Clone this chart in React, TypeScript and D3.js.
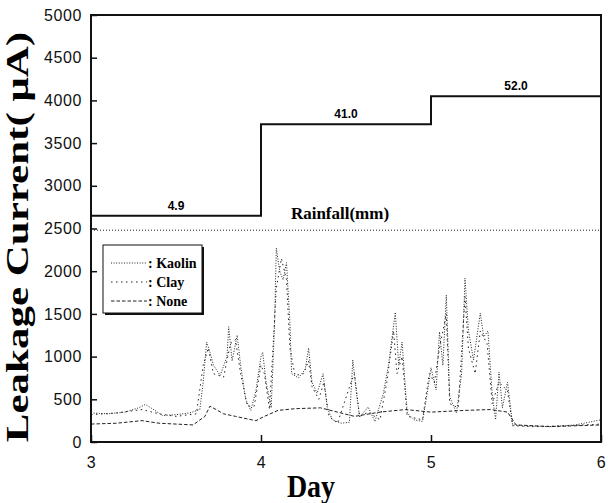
import React, { useEffect, useRef } from "react";
import * as d3 from "d3";

// Leakage current readings, [day, µA]
const kaolin: [number, number][] = [
  [3.0, 340], [3.1, 330], [3.2, 350], [3.28, 400], [3.32, 440], [3.36, 390], [3.42, 310], [3.5, 320],
  [3.58, 340], [3.64, 380], [3.66, 700], [3.68, 1170], [3.7, 1050], [3.72, 900], [3.76, 780], [3.8, 1000],
  [3.81, 1350], [3.83, 950], [3.86, 1250], [3.88, 900], [3.91, 500], [3.94, 370], [3.97, 600], [4.0, 1000],
  [4.01, 1050], [4.03, 700], [4.06, 400], [4.08, 1400], [4.09, 2270], [4.11, 2000], [4.13, 1900], [4.15, 2100],
  [4.17, 1400], [4.18, 800], [4.22, 750], [4.26, 850], [4.28, 1100], [4.3, 700], [4.33, 570], [4.365, 800],
  [4.39, 400], [4.42, 260], [4.47, 220], [4.52, 230], [4.54, 960], [4.56, 600], [4.58, 290], [4.63, 410],
  [4.67, 240], [4.72, 570], [4.75, 900], [4.79, 1520], [4.81, 900], [4.83, 1170], [4.86, 340], [4.9, 260],
  [4.95, 240], [4.98, 600], [5.0, 870], [5.03, 610], [5.05, 1290], [5.07, 900], [5.09, 1720], [5.11, 530],
  [5.15, 340], [5.18, 800], [5.2, 1920], [5.22, 1310], [5.25, 960], [5.29, 1510], [5.31, 1230], [5.335, 1300],
  [5.36, 560], [5.38, 260], [5.4, 820], [5.42, 400], [5.45, 700], [5.48, 200], [5.55, 190], [5.7, 180],
  [5.85, 200], [5.95, 240], [6.0, 260],
];

const clay: [number, number][] = [
  [3.0, 320], [3.15, 340], [3.3, 380], [3.4, 330], [3.5, 300], [3.62, 330], [3.66, 900], [3.69, 1100],
  [3.72, 800], [3.78, 760], [3.82, 1150], [3.85, 1200], [3.88, 800], [3.92, 420], [3.96, 420], [4.0, 900],
  [4.02, 800], [4.05, 380], [4.09, 1800], [4.12, 2150], [4.15, 1900], [4.17, 1100], [4.2, 780], [4.25, 800],
  [4.28, 950], [4.3, 650], [4.34, 500], [4.37, 700], [4.4, 300], [4.45, 220], [4.53, 700], [4.55, 800],
  [4.58, 300], [4.63, 350], [4.7, 260], [4.74, 700], [4.78, 1300], [4.8, 800], [4.83, 1000], [4.86, 300],
  [4.95, 260], [4.99, 800], [5.02, 700], [5.05, 1100], [5.09, 1500], [5.11, 450], [5.16, 400], [5.2, 1700],
  [5.22, 1100], [5.26, 800], [5.29, 1300], [5.33, 1150], [5.36, 450], [5.4, 700], [5.45, 600], [5.48, 190],
  [5.6, 180], [5.8, 190], [6.0, 210],
];

const none: [number, number][] = [
  [3.0, 210], [3.15, 220], [3.3, 250], [3.4, 220], [3.6, 200], [3.67, 300], [3.7, 420], [3.78, 330],
  [3.85, 300], [3.92, 270], [3.97, 250], [4.02, 300], [4.1, 370], [4.2, 390], [4.35, 400], [4.45, 350],
  [4.55, 300], [4.7, 350], [4.85, 380], [5.0, 350], [5.2, 370], [5.35, 380], [5.45, 350], [5.5, 200],
  [5.7, 180], [6.0, 200],
];

// Rainfall per day: step level on the current scale and the label in mm
const rainDays = [3, 4, 5];
const rainLevels = [2650, 3720, 4050];
const rainLabels = ["4.9", "41.0", "52.0"];
const rainfallRef = 2480;

const xTicks = [3, 4, 5, 6];
const yTicks = [0, 500, 1000, 1500, 2000, 2500, 3000, 3500, 4000, 4500, 5000];

const seriesNames = ["Kaolin", "Clay", "None"];
const seriesData = [kaolin, clay, none];
const seriesDash = ["1 1.6", "1.5 3.5", "3.5 2"];

const App: React.FC = () => {
  const svgRef = useRef<SVGSVGElement>(null);

  useEffect(() => {
    if (!svgRef.current) return;
    const svg = d3.select(svgRef.current);
    svg.selectAll("*").remove();

    const left = 91, right = 601, top = 15, bottom = 442;

    const x = d3.scaleLinear().domain([3, 6]).range([left, right]);
    const y = d3.scaleLinear().domain([0, 5000]).range([bottom, top]);

    const g = svg.append("g");

    // Data lines
    const line = d3.line<[number, number]>()
      .x(d => x(d[0]))
      .y(d => y(d[1]));

    seriesData.forEach((data, i) => {
      g.append("path")
        .datum(data)
        .attr("fill", "none")
        .attr("stroke", "#222")
        .attr("stroke-width", 1)
        .attr("stroke-dasharray", seriesDash[i])
        .attr("d", line);
    });

    // Rainfall reference line
    g.append("line")
      .attr("x1", x(3)).attr("x2", x(6))
      .attr("y1", y(rainfallRef)).attr("y2", y(rainfallRef))
      .attr("stroke", "#222")
      .attr("stroke-width", 1)
      .attr("stroke-dasharray", "1 2");

    g.append("text")
      .attr("x", 340)
      .attr("y", y(rainfallRef) - 11)
      .attr("text-anchor", "middle")
      .attr("font-family", "Liberation Serif, serif")
      .attr("font-weight", "bold")
      .attr("font-size", 17)
      .text("Rainfall(mm)");

    // Rainfall step line
    const steps: [number, number][] = rainDays.map((d, i) => [d, rainLevels[i]]);
    steps.push([6, rainLevels[rainLevels.length - 1]]);
    const stepLine = d3.line<[number, number]>()
      .x(d => x(d[0]))
      .y(d => y(d[1]))
      .curve(d3.curveStepAfter);
    g.append("path")
      .datum(steps)
      .attr("fill", "none")
      .attr("stroke", "#111")
      .attr("stroke-width", 2)
      .attr("d", stepLine);

    rainDays.forEach((d, i) => {
      g.append("text")
        .attr("x", x(d + 0.5))
        .attr("y", y(rainLevels[i]) - 6)
        .attr("text-anchor", "middle")
        .attr("font-family", "Liberation Sans, Arial, sans-serif")
        .attr("font-weight", "bold")
        .attr("font-size", 12)
        .text(rainLabels[i]);
    });

    // Frame
    g.append("rect")
      .attr("x", left).attr("y", top)
      .attr("width", right - left).attr("height", bottom - top)
      .attr("fill", "none")
      .attr("stroke", "#111")
      .attr("stroke-width", 2);

    // Axes, ticks pointing inward
    const xAxis = g.append("g")
      .attr("transform", `translate(0,${bottom})`)
      .call(d3.axisBottom(x).tickValues(xTicks).tickSize(-7).tickPadding(15).tickFormat(d3.format("d")));
    const yAxis = g.append("g")
      .attr("transform", `translate(${left},0)`)
      .call(d3.axisLeft(y).tickValues(yTicks).tickSize(-6).tickPadding(9).tickFormat(d3.format("d")));

    [xAxis, yAxis].forEach(ax => {
      ax.select(".domain").remove();
      ax.selectAll("line").attr("stroke", "#111").attr("stroke-width", 1.5);
      ax.selectAll("text")
        .attr("fill", "#111")
        .attr("font-family", "Liberation Sans, Arial, sans-serif")
        .attr("font-size", 16)
        .attr("letter-spacing", 0.6);
    });

    // Axis titles
    g.append("text")
      .attr("transform", `translate(28,237) rotate(-90) scale(1,0.72)`)
      .attr("text-anchor", "middle")
      .attr("font-family", "Liberation Serif, serif")
      .attr("font-weight", "bold")
      .attr("font-size", 43)
      .text("Leakage Current(  \u03bcA)");

    g.append("text")
      .attr("transform", "translate(311,497) scale(1,1.15)")
      .attr("text-anchor", "middle")
      .attr("font-family", "Liberation Serif, serif")
      .attr("font-weight", "bold")
      .attr("font-size", 28)
      .text("Day");

    // Legend
    const lg = g.append("g").attr("transform", "translate(103,245)");
    lg.append("rect")
      .attr("x", 2).attr("y", 2)
      .attr("width", 99).attr("height", 68)
      .attr("fill", "#111");
    lg.append("rect")
      .attr("width", 99).attr("height", 68)
      .attr("fill", "#fff")
      .attr("stroke", "#111")
      .attr("stroke-width", 1);
    seriesNames.forEach((name, i) => {
      const yy = 18 + i * 19;
      lg.append("line")
        .attr("x1", 8).attr("x2", 44)
        .attr("y1", yy).attr("y2", yy)
        .attr("stroke", "#222")
        .attr("stroke-dasharray", seriesDash[i]);
      lg.append("text")
        .attr("x", 45)
        .attr("y", yy + 5)
        .attr("font-family", "Liberation Serif, serif")
        .attr("font-weight", "bold")
        .attr("font-size", 14)
        .text(`: ${name}`);
    });
  }, []);

  return (
    <svg
      ref={svgRef}
      width={608}
      height={503}
      style={{ position: "absolute", left: 0, top: 0, background: "#fff" }}
    />
  );
};

export default App;
